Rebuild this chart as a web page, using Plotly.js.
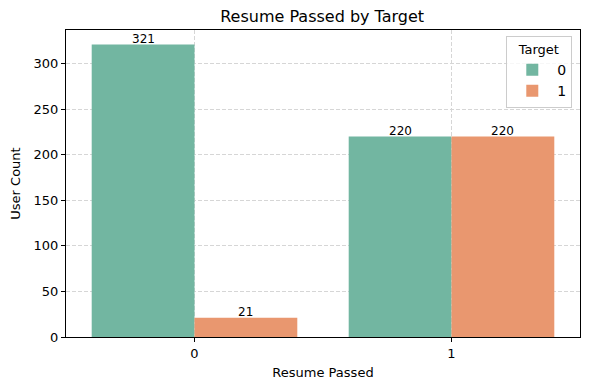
<!DOCTYPE html>
<html><head><meta charset="utf-8">
<script src="https://cdn.plot.ly/plotly-3.0.1.min.js"></script>
<style>html,body{margin:0;padding:0;background:#fff;}#c{width:590px;height:390px;}</style>
</head><body><div id="c"></div>
<script>
var categories = [0, 1];
var seriesNames = ["0", "1"];
var target0 = [321, 220];
var target1 = [21, 220];
var colors = ["#72b6a1", "#e9976f"];
var offsets = [-0.2, 0.2];
var font = "DejaVu Sans, sans-serif";

var series = [target0, target1];
var traces = series.map(function(vals, i){
  return {type:"bar", x:categories, y:vals, name:seriesNames[i],
    marker:{color:colors[i], line:{width:0}}, offset: i===0 ? -0.4 : 0, width:0.4,
    hoverinfo:"none"};
});
var annotations = [];
series.forEach(function(vals, i){
  vals.forEach(function(v, j){
    annotations.push({x:categories[j]+offsets[i], y:v, xref:"x", yref:"y", text:String(v),
      showarrow:false, yanchor:"bottom", yshift:-3, font:{family:font, size:12, color:"#000"}});
  });
});
var layout = {
  width:590, height:390,
  margin:{l:66, r:10, t:30, b:53},
  paper_bgcolor:"#fff", plot_bgcolor:"#fff",
  font:{family:font, color:"#000"},
  title:{text:"Resume Passed by Target", x:0.546, xanchor:"center", y:0.957, yanchor:"middle", font:{family:font, size:16, color:"#000"}},
  barmode:"overlay",
  xaxis:{range:[-0.5,1.5], tickvals:categories, ticktext:categories.map(String), showline:true, linecolor:"#000", linewidth:1, mirror:true,
    ticks:"outside", ticklen:4, tickcolor:"#000", tickfont:{family:font, size:13},
    showgrid:true, gridcolor:"#d6d6d6", griddash:"4px,2px", gridwidth:1, zeroline:false,
    title:{text:"Resume Passed", font:{family:font, size:13}, standoff:8}},
  yaxis:{range:[0,337.05], tickvals:[0,50,100,150,200,250,300], showline:true, linecolor:"#000", linewidth:1, mirror:true,
    ticks:"outside", ticklen:4, tickcolor:"#000", tickfont:{family:font, size:13},
    showgrid:true, gridcolor:"#d6d6d6", griddash:"4px,2px", gridwidth:1, zeroline:false,
    title:{text:"User Count", font:{family:font, size:13}, standoff:10}},
  legend:{title:{text:"Target", side:"top center", font:{family:font, size:13}}, x:0.985, xanchor:"right", y:0.98, yanchor:"top",
    bordercolor:"#cccccc", borderwidth:1, bgcolor:"rgba(255,255,255,0.8)", font:{family:font, size:14}, itemwidth:40},
  annotations:annotations,
  showlegend:true
};
Plotly.newPlot("c", traces, layout, {staticPlot:true, displayModeBar:false});
</script></body></html>
